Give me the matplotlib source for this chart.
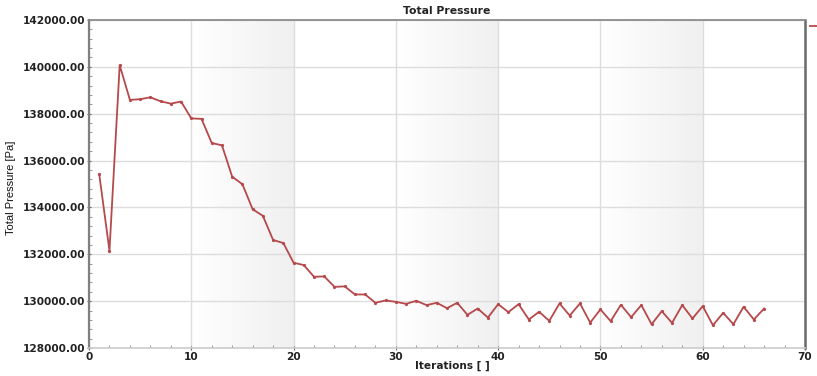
import numpy as np
import matplotlib
matplotlib.use("Agg")
import matplotlib.pyplot as plt
from matplotlib.ticker import MultipleLocator, FormatStrFormatter
from matplotlib.colors import LinearSegmentedColormap
from matplotlib.lines import Line2D

iterations = list(range(1, 67))
pressure = [
    135420, 132150, 140070, 138590, 138620, 138700, 138530, 138430, 138520, 137800,
    137780, 136750, 136650, 135310, 134990, 133920, 133640, 132610, 132480, 131640,
    131540, 131040, 131055, 130610, 130630, 130285, 130285, 129930, 130030, 129970,
    129885, 130015, 129830, 129930, 129700, 129930, 129415, 129685, 129300, 129870,
    129530, 129870, 129215, 129545, 129160, 129900, 129385, 129900, 129085, 129645,
    129145, 129845, 129315, 129830, 129015, 129570, 129070, 129830, 129260, 129785,
    128970, 129500, 129015, 129760, 129215, 129685,
]
shaded_bands = [(10, 20), (30, 40), (50, 60)]
x_ticks = [0, 10, 20, 30, 40, 50, 60, 70]
y_ticks = [128000, 130000, 132000, 134000, 136000, 138000, 140000, 142000]

W, H = 817, 376
fig = plt.figure(figsize=(W / 100, H / 100), dpi=100)
ax = fig.add_axes([89 / W, 1 - 348 / H, (805 - 89) / W, (348 - 20) / H])

ax.set_xlim(0, 70)
ax.set_ylim(128000, 142000)

grad = np.linspace(0, 1, 256).reshape(1, -1)
cmap = LinearSegmentedColormap.from_list("band", ["#ffffff", "#f0f0f0"])
for a, b in shaded_bands:
    ax.imshow(grad, extent=(a, b, 128000, 142000), aspect="auto", cmap=cmap,
              zorder=0, interpolation="bicubic")

ax.set_xticks(x_ticks)
ax.set_yticks(y_ticks)
ax.xaxis.set_minor_locator(MultipleLocator(2))
ax.yaxis.set_minor_locator(MultipleLocator(400))
ax.yaxis.set_major_formatter(FormatStrFormatter("%.2f"))
ax.grid(True, which="major", color="#dddddd", linewidth=1.0, zorder=1)
ax.set_axisbelow(True)

ax.plot(iterations, pressure, color="#b5494b", linewidth=1.3, marker="o",
        markersize=1.3, zorder=3)

for lbl in ax.get_xticklabels() + ax.get_yticklabels():
    lbl.set_fontfamily("DejaVu Sans")
    lbl.set_fontweight("bold")
    lbl.set_fontsize(7.6)
    lbl.set_color("#222222")

ax.tick_params(which="major", direction="inout", length=3, width=0.8, color="#666666", pad=1.5)
ax.tick_params(which="minor", direction="in", length=2, width=0.6, color="#888888")
ax.tick_params(axis="y", which="both", right=False)
ax.tick_params(axis="x", which="both", top=False)

ax.spines["left"].set_color("#808080")
ax.spines["left"].set_linewidth(1.6)
ax.spines["bottom"].set_color("#cccccc")
ax.spines["bottom"].set_linewidth(1.2)
ax.spines["top"].set_color("#8c8c8c")
ax.spines["top"].set_linewidth(1.3)
ax.spines["right"].set_color("#6a6a6a")
ax.spines["right"].set_linewidth(1.8)

ax.set_title("Total Pressure", fontsize=7.8, fontweight="bold", fontfamily="DejaVu Sans",
             color="#222222", pad=4)
fig.text(452 / W, 1 - 366 / H, "Iterations [ ]", ha="center", va="center",
         fontsize=7.6, fontweight="bold", family="DejaVu Sans", color="#222222")
fig.text(11 / W, 1 - 188 / H, "Total Pressure [Pa]", rotation=90, ha="center", va="center",
         fontsize=8, family=["Liberation Sans Narrow", "Liberation Sans", "DejaVu Sans"],
         color="#111111")

# legend handle (text lies outside the visible picture in the reference)
fig.add_artist(Line2D([810 / W, 820 / W], [1 - 26 / H, 1 - 26 / H],
                      transform=fig.transFigure, color="#b5494b", linewidth=1.3))

fig.savefig("out.png", dpi=100)
